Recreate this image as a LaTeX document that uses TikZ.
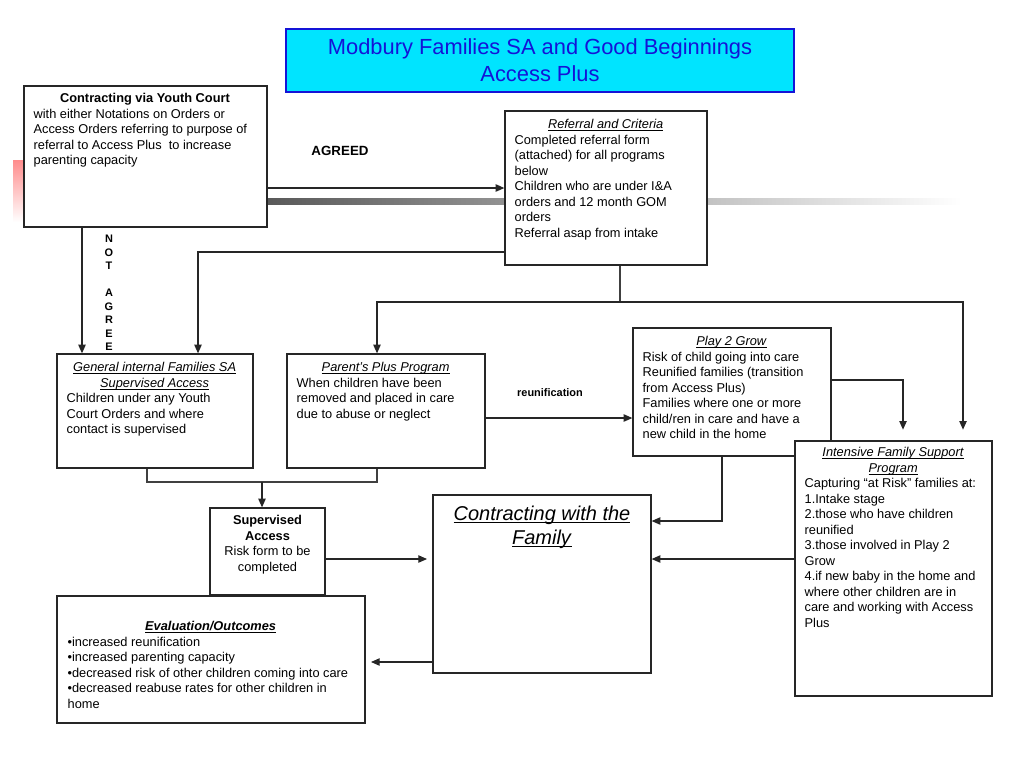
\documentclass[tikz,border=0pt]{standalone}
\usepackage{fontspec}
\setmainfont{Liberation Sans}
\usetikzlibrary{arrows.meta,positioning,fit}
\definecolor{titlefill}{RGB}{0,228,255}
\definecolor{titleblue}{RGB}{20,20,215}
\newcommand{\bodyfont}{\fontsize{9.6}{11.6}\selectfont}
\newsavebox{\headulbox}
\newcommand{\headul}[1]{\sbox{\headulbox}{#1}\rlap{\rule[-1.6pt]{\wd\headulbox}{0.5pt}}\usebox{\headulbox}}
\newcommand{\boxhead}[2]{\makebox[#1]{\headul{\textit{#2}}}}

\begin{document}
\begin{tikzpicture}[x=0.75pt,y=-0.75pt,
  box/.style={rectangle, draw=black!85, line width=0.95pt, fill=white, inner sep=0pt},
  txt/.style={inner sep=0pt, anchor=north west, align=left, font=\bodyfont},
  ctxt/.style={inner sep=0pt, anchor=north, align=center, font=\bodyfont},
  lbl/.style={inner sep=0pt, font=\bfseries\fontsize{8.2}{10.1}\selectfont},
  carr/.style={-{Triangle[length=6.5pt,width=5.5pt]}, line width=0.9pt, draw=black!85},
  cline/.style={line width=0.9pt, draw=black!75},
]
\useasboundingbox (0,0) rectangle (1024,768);

% --- background strokes (slide decoration) ---
\shade[top color=red!45, bottom color=white] (13,160) rectangle (24,222);
\shade[left color=black!65, right color=white] (267,198) rectangle (962,204);

% --- title ---
\node[box, draw=titleblue, fill=titlefill, fit={(286,29) (794,92)}] (title) {};
\node[align=center, text=titleblue, font=\fontsize{16.4}{20.25}\selectfont] (titletxt) at (title.center) {Modbury Families SA and Good Beginnings\\Access Plus};

% --- boxes (pixel grid of the slide) ---
\node[box, fit={(24,86) (267,227)}] (court) {};
\node[box, fit={(505,111) (707,265)}] (referral) {};
\node[box, fit={(57,354) (253,468)}] (general) {};
\node[box, fit={(287,354) (485,468)}] (parents) {};
\node[box, fit={(633,328) (831,456)}] (play) {};
\node[box, fit={(795,441) (992,696)}] (intensive) {};
\node[box, fit={(210,508) (325,595)}] (supacc) {};
\node[box, fit={(433,495) (651,673)}] (family) {};
\node[box, fit={(57,596) (365,723)}] (evaluation) {};

% --- box texts ---
\node[txt] (courttxt) at ([shift={(10,8)}]court.north west) {\makebox[167pt]{\textbf{Contracting via Youth Court}}\\with either Notations on Orders or\\Access Orders referring to purpose of\\referral to Access Plus\ \ to increase\\parenting capacity};
\node[txt] (referraltxt) at ([shift={(10,9)}]referral.north west) {\boxhead{136.5pt}{Referral and Criteria}\\Completed referral form\\(attached) for all programs\\below\\Children who are under I\&A\\orders and 12 month GOM\\orders\\Referral asap from intake};
\node[txt] (generaltxt) at ([shift={(10,9)}]general.north west) {\boxhead{132pt}{General internal Families SA}\\\boxhead{132pt}{Supervised Access}\\Children under any Youth\\Court Orders and where\\contact is supervised};
\node[txt] (parentstxt) at ([shift={(10,9)}]parents.north west) {\boxhead{133.5pt}{Parent’s Plus Program}\\When children have been\\removed and placed in care\\due to abuse or neglect};
\node[txt] (playtxt) at ([shift={(10,9)}]play.north west) {\boxhead{133.5pt}{Play 2 Grow}\\Risk of child going into care\\Reunified families (transition\\from Access Plus)\\Families where one or more\\child/ren in care and have a\\new child in the home};
\node[txt] (intensivetxt) at ([shift={(10,7)}]intensive.north west) {\boxhead{132.75pt}{Intensive Family Support}\\\boxhead{132.75pt}{Program}\\Capturing “at Risk” families at:\\1.Intake stage\\2.those who have children\\reunified\\3.those involved in Play 2\\Grow\\4.if new baby in the home and\\where other children are in\\care and working with Access\\Plus};
\node[ctxt] (supacctxt) at ([shift={(0,8)}]supacc.north) {\textbf{Supervised}\\\textbf{Access}\\Risk form to be\\completed};
\node[ctxt, font=\fontsize{15}{18}\selectfont] (familytxt) at ([shift={(0,11)}]family.north) {\headul{\textit{Contracting with the}}\\\headul{\textit{Family}}};
\node[txt] (evaltxt) at ([shift={(11,26)}]evaluation.north west) {\makebox[214.5pt]{\headul{\textbf{\textit{Evaluation/Outcomes}}}}\\•increased reunification\\•increased parenting capacity\\•decreased risk of other children coming into care\\•decreased reabuse rates for other children in\\home};

% --- court: agreed / not agreed ---
\draw[carr] (court.east |- 0,188) -- (referral.west |- 0,188);
\node[lbl, font=\bfseries\fontsize{10}{12}\selectfont] (agreed) at (340,151) {AGREED};
\draw[carr] (court.south -| 82,0) -- (general.north -| 82,0);
\node[lbl, align=center] (notagreed) at (109,293) {N\\O\\T\\[10pt]A\\G\\R\\E\\E};

% --- referral fans out to the programs ---
\draw[carr] (referral.west |- 0,252) -| (general.north -| 198,0);
\coordinate (fan) at (620,302);
\draw[cline] (referral.south -| fan) -- (fan);
\draw[carr] (fan) -| (parents.north -| 377,0);
\draw[carr, shorten >=8pt] (fan) -| (intensive.north -| 963,0);

% --- general + parents join into supervised access ---
\coordinate (join) at (262,482);
\draw[cline] (general.south -| 147,0) |- (join) -| (parents.south -| 377,0);
\draw[carr] (join) -- (supacc.north -| join);

% --- reunification and play 2 grow ---
\draw[carr] (parents.east |- 0,418) -- (play.west |- 0,418);
\node[lbl] (reunif) at (550,393) {reunification};
\draw[carr, shorten >=8pt] (play.east |- 0,380) -| (intensive.north -| 903,0);
\draw[carr] (play.south -| 722,0) |- (family.east |- 0,521);

% --- into and out of contracting with the family ---
\draw[carr] (intensive.west |- 0,559) -- (family.east |- 0,559);
\draw[carr, shorten >=4pt] (supacc.east |- 0,559) -- (family.west |- 0,559);
\draw[carr, shorten >=4pt] (family.west |- 0,662) -- (evaluation.east |- 0,662);

\end{tikzpicture}
\end{document}
